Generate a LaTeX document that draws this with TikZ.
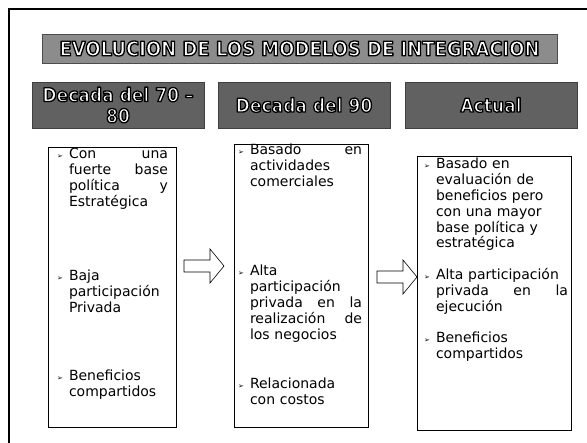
\documentclass[tikz,border=0pt]{standalone}
\usepackage{fontspec}
\setmainfont{DejaVu Sans}
\newfontfamily\condfont{DejaVu Sans Condensed}
\newcommand\outltext[1]{\special{pdf:code q 2 Tr 1.3 w 1 j}\textcolor{white}{\special{pdf:code 0 0 0 RG}#1}\special{pdf:code Q}}
\newcommand\bul{\llap{{\fontsize{7}{7}\selectfont ➢}\hspace{6pt}}}
\tikzset{
  titlebar/.style={fill=black!45, draw=black!70, line width=0.4pt, inner sep=0pt, font=\condfont\fontsize{20}{22}\selectfont\bfseries},
  hdrbar/.style={fill=black!62, draw=black!75, line width=0.4pt, inner sep=0pt, font=\condfont\fontsize{19}{21}\selectfont\bfseries, align=center},
  cbox/.style={draw=black, line width=0.8pt, inner sep=0pt},
  itm/.style={anchor=base west, inner sep=0pt, outer sep=0pt, align=left, font=\fontsize{14}{15.8}\selectfont},
  blockarrow/.style={draw=black, line width=0.6pt, fill=white, line join=miter}
}
\begin{document}
\begin{tikzpicture}[x=1pt,y=-1pt]
\useasboundingbox[fill=white] (0,0) rectangle (587,443);
% frame
\draw[line width=1.4pt] (587,9) -- (9,9) -- (9,443);
% title
\node[titlebar, minimum width=515pt, minimum height=29pt] (title) at (299.5,48.5) {\outltext{EVOLUCION DE LOS MODELOS DE INTEGRACION}};
% headers
\node[hdrbar, minimum width=172pt, minimum height=46pt] (h1) at (118,105) {\outltext{Decada del 70 –}\\\outltext{80}};
\node[hdrbar, minimum width=172pt, minimum height=46pt] (h2) at (304,105) {\outltext{Decada del 90}};
\node[hdrbar, minimum width=172pt, minimum height=46pt] (h3) at (491,105) {\outltext{Actual}};
% content boxes
\node[cbox, minimum width=128pt, minimum height=280pt] (lb) at (112,287) {};
\node[cbox, minimum width=134pt, minimum height=283pt] (mb) at (301,285.5) {};
\node[cbox, minimum width=154pt, minimum height=274pt] (rb) at (494,293) {};
% left items
\node[itm, text width=99pt] (l1) at (69,159) {\bul Con\hfill una\\fuerte\hfill base\\política\hfill y\\Estratégica};
\node[itm, text width=99pt] (l2) at (69,281) {\bul Baja\\participación\\Privada};
\node[itm, text width=99pt] (l3) at (69,381) {\bul Beneficios\\compartidos};
% middle items
\node[itm, text width=112pt] (m1) at (250,155) {\bul Basado\hfill en\\actividades\\comerciales};
\node[itm, text width=112pt] (m2) at (250,276) {\bul Alta\\participación\\privada\hfill en\hfill la\\realización\hfill de\\los negocios};
\node[itm, text width=112pt] (m3) at (250,389) {\bul Relacionada\\con costos};
% right items
\node[itm, text width=132pt] (r1) at (436,169) {\bul Basado en\\evaluación de\\beneficios pero\\con una mayor\\base política y\\estratégica};
\node[itm, text width=132pt] (r2) at (436,280) {\bul Alta participación\\privada\hfill en\hfill la\\ejecución};
\node[itm, text width=132pt] (r3) at (436,343) {\bul Beneficios\\compartidos};
% block arrows
\coordinate (a1) at (184,266);
\coordinate (a2) at (377,277);
\draw[blockarrow, shift={(a1)}] (0,-6) -- (26,-6) -- (26,-17) -- (40,0) -- (26,17) -- (26,6) -- (0,6) -- cycle;
\draw[blockarrow, shift={(a2)}] (0,-6) -- (26,-6) -- (26,-17) -- (40,0) -- (26,17) -- (26,6) -- (0,6) -- cycle;
\end{tikzpicture}
\end{document}
